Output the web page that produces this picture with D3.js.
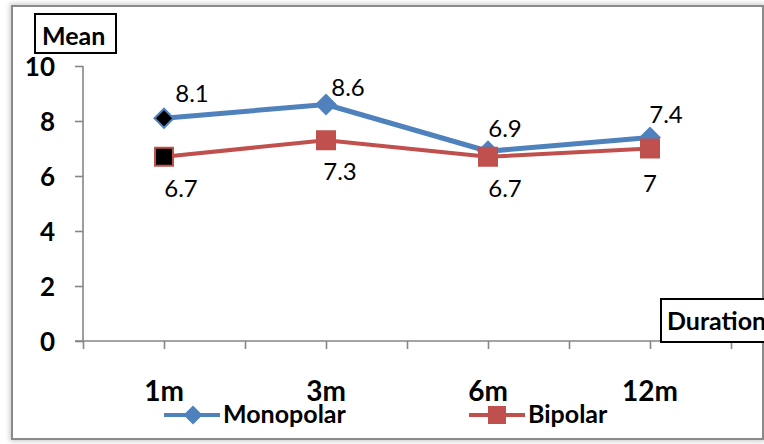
<!DOCTYPE html>
<html>
<head>
<meta charset="utf-8">
<script src="https://cdn.jsdelivr.net/npm/d3@7"></script>
<style>
  html, body { margin: 0; padding: 0; background: #fff; overflow: hidden; }
  svg { display: block; font-family: Lato, "Open Sans", sans-serif; }
</style>
</head>
<body>
<svg id="chart" width="764" height="444"></svg>
<script>
// Mean score by follow-up duration
const durations = ["1m", "3m", "6m", "12m"];
const durationSlots = [1, 3, 5, 7];            // slot index of each duration on the axis
const monopolar = [8.1, 8.6, 6.9, 7.4];
const bipolar = [6.7, 7.3, 6.7, 7];
const yTicks = [0, 2, 4, 6, 8, 10];
const seriesNames = ["Monopolar", "Bipolar"];

const blue = "#4F81BD", red = "#C0504D", axisGrey = "#868686";

const svg = d3.select("#chart");

// outer chart frame with a soft shadow
const defs = svg.append("defs");
const f = defs.append("filter").attr("id", "shadow").attr("x", "-5%").attr("y", "-5%").attr("width", "110%").attr("height", "110%");
f.append("feGaussianBlur").attr("in", "SourceAlpha").attr("stdDeviation", 2.5);
f.append("feOffset").attr("dx", 0).attr("dy", 0).attr("result", "b");
f.append("feFlood").attr("flood-color", "#000").attr("flood-opacity", 0.25);
f.append("feComposite").attr("in2", "b").attr("operator", "in");
svg.append("rect").attr("x", 12).attr("y", 6).attr("width", 751).attr("height", 433)
  .attr("fill", "none").attr("stroke", "#bdbdbd").attr("stroke-width", 4).attr("filter", "url(#shadow)");
svg.append("rect").attr("x", 12).attr("y", 6).attr("width", 751).attr("height", 433)
  .attr("fill", "#fff").attr("stroke", "#8a8a8a").attr("stroke-width", 2);

const x = d3.scaleLinear().domain([0, 8.4]).range([83, 763.4]);
const y = d3.scaleLinear().domain([0, 10]).range([341, 66]);

// y axis
const yAxis = svg.append("g").attr("transform", "translate(83,0)")
  .call(d3.axisLeft(y).tickValues(yTicks).tickSize(8).tickPadding(20).tickFormat(d3.format("d")));
yAxis.select(".domain").attr("stroke", axisGrey).attr("stroke-width", 1.6).attr("d", `M0,${y(10)}V${y(0)}`);
yAxis.selectAll(".tick line").attr("stroke", axisGrey).attr("stroke-width", 1.6);
yAxis.selectAll(".tick text").attr("font-size", 26).attr("font-weight", "bold").attr("fill", "#000")
  .attr("font-family", "Lato, sans-serif").attr("dy", "0.36em");

// x axis
const xAxis = svg.append("g").attr("transform", `translate(0,${y(0)})`)
  .call(d3.axisBottom(x).tickValues(d3.range(0, 9)).tickSize(8).tickFormat(""));
xAxis.select(".domain").attr("stroke", axisGrey).attr("stroke-width", 1.6).attr("d", `M${x(0) - 8},0H764`);
xAxis.selectAll(".tick line").attr("stroke", axisGrey).attr("stroke-width", 1.6);

// category labels
svg.append("g").selectAll("text").data(durations).join("text")
  .attr("x", (d, i) => x(durationSlots[i]))
  .attr("y", 401)
  .attr("text-anchor", "middle")
  .attr("font-size", 28).attr("font-weight", "bold").attr("fill", "#000")
  .text(d => d);

// axis title boxes
function titleBox(bx, by, bw, bh, label, tx, ty, size) {
  svg.append("rect").attr("x", bx).attr("y", by).attr("width", bw).attr("height", bh)
    .attr("fill", "#fff").attr("stroke", "#000").attr("stroke-width", 2);
  svg.append("text").attr("x", tx).attr("y", ty).attr("font-size", size)
    .attr("font-weight", "bold").attr("fill", "#000").text(label);
}
titleBox(35, 14, 81, 39, "Mean", 42, 45, 25);
titleBox(661, 299, 130, 43, "Duration", 667, 330, 25);

const line = d3.line().x((d, i) => x(durationSlots[i])).y(d => y(d));

// Monopolar series
svg.append("path").datum(monopolar).attr("d", line)
  .attr("fill", "none").attr("stroke", blue).attr("stroke-width", 5).attr("stroke-linejoin", "round");
svg.append("g").selectAll("path").data(monopolar).join("path")
  .attr("transform", (d, i) => `translate(${x(durationSlots[i])},${y(d)})`)
  .attr("d", d3.symbol(d3.symbolDiamond2, 230))
  .attr("fill", (d, i) => i === 0 ? "#000" : blue)
  .attr("stroke", blue).attr("stroke-width", 2);

// Bipolar series
svg.append("path").datum(bipolar).attr("d", line)
  .attr("fill", "none").attr("stroke", red).attr("stroke-width", 4).attr("stroke-linejoin", "round");
svg.append("g").selectAll("rect").data(bipolar).join("rect")
  .attr("x", (d, i) => x(durationSlots[i]) - 9)
  .attr("y", d => y(d) - 9)
  .attr("width", 18).attr("height", 18)
  .attr("fill", (d, i) => i === 0 ? "#000" : red)
  .attr("stroke", red).attr("stroke-width", 2);

// value labels
const monoNudge = [[28, -16], [22, -9], [17, -14], [16, -15]];
const biNudge = [[17, 40], [14, 40], [17, 40], [0, 43]];
svg.append("g").selectAll("text").data(monopolar).join("text")
  .attr("x", (d, i) => x(durationSlots[i]) + monoNudge[i][0])
  .attr("y", (d, i) => y(d) + monoNudge[i][1])
  .attr("text-anchor", "middle").attr("font-size", 24).attr("fill", "#000")
  .text(d => d);
svg.append("g").selectAll("text").data(bipolar).join("text")
  .attr("x", (d, i) => x(durationSlots[i]) + biNudge[i][0])
  .attr("y", (d, i) => y(d) + biNudge[i][1])
  .attr("text-anchor", "middle").attr("font-size", 24).attr("fill", "#000")
  .text(d => d);

// legend
const legend = [
  { name: seriesNames[0], color: blue, lx: 164 },
  { name: seriesNames[1], color: red, lx: 469 }
];
legend.forEach((l, i) => {
  const g = svg.append("g").attr("transform", `translate(${l.lx},415)`);
  g.append("line").attr("x1", 0).attr("x2", 56).attr("stroke", l.color).attr("stroke-width", 4);
  if (i === 0) {
    g.append("path").attr("transform", "translate(29,0)").attr("d", d3.symbol(d3.symbolDiamond2, 230)).attr("fill", l.color);
  } else {
    g.append("rect").attr("x", 19).attr("y", -9).attr("width", 18).attr("height", 18).attr("fill", l.color);
  }
  g.append("text").attr("x", 59).attr("y", 8).attr("font-size", 25).attr("font-weight", "bold")
    .attr("fill", "#000").text(l.name);
});
</script>
</body>
</html>
